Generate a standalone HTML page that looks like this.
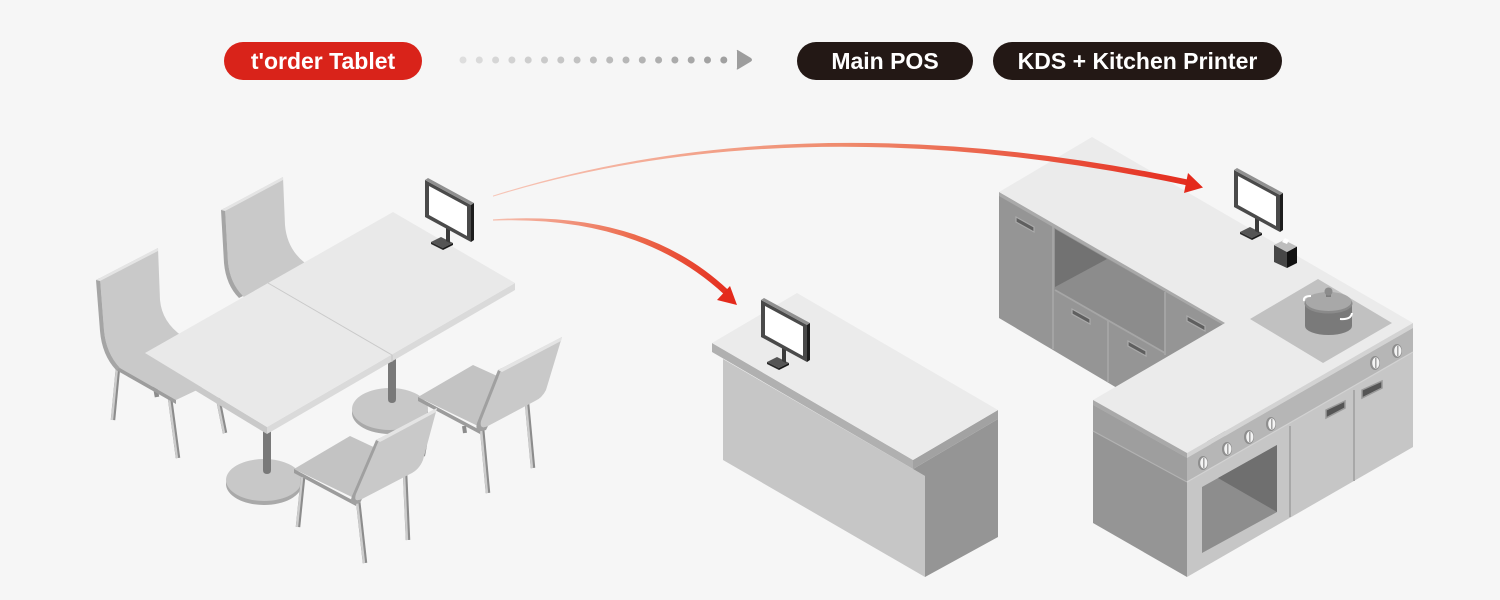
<!DOCTYPE html>
<html><head><meta charset="utf-8">
<style>
html,body{margin:0;padding:0;background:#f6f6f6;}
#c{position:relative;width:1500px;height:600px;overflow:hidden;background:#f6f6f6;font-family:"Liberation Sans",sans-serif;}
.pill{position:absolute;top:42px;height:38px;border-radius:19px;color:#fff;font-weight:bold;font-size:23px;line-height:38px;text-align:center;white-space:nowrap;}
svg{position:absolute;left:0;top:0;}
</style></head><body><div id="c">
<svg width="1500" height="600" viewBox="0 0 1500 600" xmlns="http://www.w3.org/2000/svg">
<defs>
<linearGradient id="ga" gradientUnits="userSpaceOnUse" x1="493" y1="190" x2="1200" y2="190">
<stop offset="0" stop-color="#f7c6b8"/><stop offset="0.5" stop-color="#ef8a6c"/><stop offset="1" stop-color="#e42a1c"/></linearGradient>
<linearGradient id="gb" gradientUnits="userSpaceOnUse" x1="493" y1="220" x2="735" y2="300">
<stop offset="0" stop-color="#f6c0b0"/><stop offset="0.55" stop-color="#ec6a4c"/><stop offset="1" stop-color="#e42a1c"/></linearGradient>
</defs>

<!-- dotted arrow -->
<g>
<circle cx="463" cy="60" r="3.5" fill="#dedede"/><circle cx="479.3" cy="60" r="3.5" fill="#dadada"/><circle cx="495.6" cy="60" r="3.5" fill="#d6d6d6"/><circle cx="511.9" cy="60" r="3.5" fill="#d2d2d2"/><circle cx="528.2" cy="60" r="3.5" fill="#cecece"/><circle cx="544.5" cy="60" r="3.5" fill="#cacaca"/><circle cx="560.8" cy="60" r="3.5" fill="#c6c6c6"/><circle cx="577.1" cy="60" r="3.5" fill="#c2c2c2"/><circle cx="593.4" cy="60" r="3.5" fill="#bebebe"/><circle cx="609.7" cy="60" r="3.5" fill="#bbbbbb"/><circle cx="626" cy="60" r="3.5" fill="#b7b7b7"/><circle cx="642.3" cy="60" r="3.5" fill="#b3b3b3"/><circle cx="658.6" cy="60" r="3.5" fill="#afafaf"/><circle cx="674.9" cy="60" r="3.5" fill="#ababab"/><circle cx="691.2" cy="60" r="3.5" fill="#a7a7a7"/><circle cx="707.5" cy="60" r="3.5" fill="#a3a3a3"/><circle cx="723.8" cy="60" r="3.5" fill="#a0a0a0"/>
<path d="M737,51 Q736,49 738.5,50.5 L751,58 Q753,60 751,61.5 L738.5,69 Q736,70.5 737,68 Z" fill="#9d9d9d"/>
</g>

<!-- Chair 2 (back middle) -->
<path d="M225,208 L283,177 L285,225 Q287,249 305,263 L340,290 L265,330 L243,296 Q230,283 228,262 Z" fill="#c9c9c9"/>
<path d="M221,210 L225,208 L228,262 Q230,283 243,296 L239,298 Q226,285 224,263 Z" fill="#a5a5a5"/>
<path d="M221,210 L279,179 L283,177 L283,180 L225,211 Z" fill="#e4e4e4"/>

<!-- Chair 1 (left) legs -->
<line x1="155" y1="386" x2="157" y2="397" stroke="#8c8c8c" stroke-width="4.5"/>
<line x1="118" y1="368" x2="113" y2="420" stroke="#8c8c8c" stroke-width="4.5"/>
<line x1="117" y1="368" x2="112" y2="420" stroke="#cdcdcd" stroke-width="2.3"/>
<line x1="170" y1="398" x2="178" y2="458" stroke="#8c8c8c" stroke-width="4.5"/>
<line x1="169" y1="398" x2="177" y2="458" stroke="#cdcdcd" stroke-width="2.3"/>
<line x1="218" y1="398" x2="225" y2="433" stroke="#8c8c8c" stroke-width="4.5"/>
<line x1="217" y1="398" x2="224" y2="433" stroke="#cdcdcd" stroke-width="2.3"/>
<!-- Chair 1 body -->
<path d="M100,278 L158,248 L160,300 Q162,322 182,336 L235,372 L176,400 L120,368 Q106,353 104,330 Z" fill="#c9c9c9"/>
<path d="M96,280 L100,278 L104,330 Q106,353 120,368 L116,370 Q102,355 100,331 Z" fill="#a5a5a5"/>
<path d="M116,370 L120,368 L176,400 L176,404 Z" fill="#9d9d9d"/>
<path d="M96,280 L154,250 L158,248 L158,251 L100,281 Z" fill="#e4e4e4"/>

<!-- Table bases & legs -->
<ellipse cx="264" cy="484" rx="38" ry="21" fill="#a9a9a9"/>
<ellipse cx="264" cy="480" rx="38" ry="21" fill="#c8c8c8"/>
<ellipse cx="390" cy="413" rx="38" ry="21" fill="#a9a9a9"/>
<ellipse cx="390" cy="409" rx="38" ry="21" fill="#c8c8c8"/>
<path d="M263,430 L271,430 L271,470 Q271,474 267,474 Q263,474 263,470 Z" fill="#797979"/>
<path d="M388,358 L396,358 L396,399 Q396,403 392,403 Q388,403 388,399 Z" fill="#797979"/>

<!-- Table top -->
<path d="M145,353 L267,427 L267,434 L145,360 Z" fill="#c9c9c9"/>
<path d="M267,427 L515,283 L515,290 L267,434 Z" fill="#dadada"/>
<path d="M145,353 L393,212 L515,283 L267,427 Z" fill="#e9e9e9"/>
<line x1="268" y1="283" x2="392" y2="355" stroke="#c9c9c9" stroke-width="1"/>
<line x1="392" y1="355" x2="392" y2="362" stroke="#c4c4c4" stroke-width="1"/>

<!-- tablet monitor -->
<g transform="translate(425,180)">
<path d="M6,62 L16,57 L28,63 L18,68 Z" fill="#555"/><path d="M6,62 L18,68 L18,70 L6,64 Z" fill="#2a2a2a"/><path d="M18,68 L28,63 L28,65 L18,70 Z" fill="#1a1a1a"/>
<path d="M21,46 L25,48 L25,63 L21,61 Z" fill="#3a3a3a"/>
<path d="M0,0 L46,25 L46,62 L0,37 Z" fill="#4a4a4a"/><path d="M0,0 L3,-2 L49,23 L46,25 Z" fill="#909090"/><path d="M46,25 L49,23 L49,60 L46,62 Z" fill="#1c1c1c"/>
<path d="M4,6 L42,26.5 L42,56 L4,35 Z" fill="#fff"/>
</g>

<!-- Chair 4 (front right) -->
<line x1="464" y1="426" x2="465" y2="433" stroke="#8c8c8c" stroke-width="4"/>
<line x1="482" y1="428" x2="488" y2="493" stroke="#8c8c8c" stroke-width="4.5"/>
<line x1="481" y1="428" x2="487" y2="493" stroke="#cdcdcd" stroke-width="2.3"/>
<line x1="527" y1="403" x2="533" y2="468" stroke="#8c8c8c" stroke-width="4.5"/>
<line x1="526" y1="403" x2="532" y2="468" stroke="#cdcdcd" stroke-width="2.3"/>
<path d="M418,397 L473,365 L506,380 L482,428 Z" fill="#c3c3c3"/>
<path d="M418,397 L480,430 L480,434 L418,401 Z" fill="#9c9c9c"/>
<path d="M502,368 L562,337 L546,390 Q542,398 535,401 L488,426 Q479,430 481,421 Z" fill="#c9c9c9"/>
<path d="M498,370 L502,368 L481,421 Q479,430 488,426 L486,430 Q474,434 477,423 Z" fill="#a0a0a0"/>
<path d="M498,370 L558,339 L562,337 L561,341 L502,372 Z" fill="#e4e4e4"/>

<!-- Chair 3 (front middle) -->
<line x1="425" y1="445" x2="423" y2="456" stroke="#8c8c8c" stroke-width="4"/>
<line x1="303" y1="478" x2="298" y2="527" stroke="#8c8c8c" stroke-width="4.5"/>
<line x1="302" y1="478" x2="297" y2="527" stroke="#cdcdcd" stroke-width="2.3"/>
<line x1="358" y1="500" x2="365" y2="563" stroke="#8c8c8c" stroke-width="4.5"/>
<line x1="357" y1="500" x2="364" y2="563" stroke="#cdcdcd" stroke-width="2.3"/>
<line x1="405" y1="472" x2="408" y2="540" stroke="#8c8c8c" stroke-width="4.5"/>
<line x1="404" y1="472" x2="407" y2="540" stroke="#cdcdcd" stroke-width="2.3"/>
<path d="M294,469 L350,436 L384,452 L358,500 Z" fill="#c3c3c3"/>
<path d="M294,469 L356,502 L356,506 L294,473 Z" fill="#9c9c9c"/>
<path d="M380,438 L437,408 L423,460 Q419,470 410,474 L362,499 Q353,503 356,494 Z" fill="#c9c9c9"/>
<path d="M376,440 L380,438 L356,494 Q353,503 362,499 L360,503 Q348,507 352,496 Z" fill="#a0a0a0"/>
<path d="M376,440 L433,410 L437,408 L436,412 L380,442 Z" fill="#e4e4e4"/>

<!-- POS counter -->
<path d="M723,359 L925,476 L925,577 L723,460 Z" fill="#c6c6c6"/>
<path d="M913,469 L998,419 L998,537 L925,577 L925,476 Z" fill="#959595"/>
<path d="M712,343 L913,460 L913,469 L712,352 Z" fill="#b0b0b0"/>
<path d="M913,460 L998,410 L998,419 L913,469 Z" fill="#a2a2a2"/>
<path d="M797,293 L998,410 L913,460 L712,343 Z" fill="#ebebeb"/>
<g transform="translate(761,300)">
<path d="M6,62 L16,57 L28,63 L18,68 Z" fill="#555"/><path d="M6,62 L18,68 L18,70 L6,64 Z" fill="#2a2a2a"/><path d="M18,68 L28,63 L28,65 L18,70 Z" fill="#1a1a1a"/>
<path d="M21,46 L25,48 L25,63 L21,61 Z" fill="#3a3a3a"/>
<path d="M0,0 L46,25 L46,62 L0,37 Z" fill="#4a4a4a"/><path d="M0,0 L3,-2 L49,23 L46,25 Z" fill="#909090"/><path d="M46,25 L49,23 L49,60 L46,62 Z" fill="#1c1c1c"/>
<path d="M4,6 L42,26.5 L42,56 L4,35 Z" fill="#fff"/>
</g>

<!-- Kitchen back counter face -->
<path d="M999,192 L1225,322 L1225,452 L999,318 Z" fill="#959595"/>
<path d="M1055,229 L1165,292 L1165,353 L1055,290 Z" fill="#8c8c8c"/>
<path d="M1055,229 L1107,259 L1055,287 Z" fill="#727272"/>
<g stroke="#a6a6a6" stroke-width="1.8" fill="none">
<line x1="1053" y1="226" x2="1053" y2="349"/>
<line x1="1165" y1="292" x2="1165" y2="355"/>
<line x1="1055" y1="290" x2="1165" y2="353"/>
<line x1="1108" y1="321" x2="1108" y2="382"/>
</g>
<g fill="#5f5f5f" stroke="#aaaaaa" stroke-width="1.2">
<path d="M1016,217 L1034,227 L1034,232 L1016,222 Z"/>
<path d="M1072,309 L1090,319 L1090,324 L1072,314 Z"/>
<path d="M1128,341 L1146,351 L1146,356 L1128,346 Z"/>
<path d="M1187,316 L1205,326 L1205,331 L1187,321 Z"/>
</g>
<path d="M999,192 L1225,322 L1225,326 L999,196 Z" fill="#a9a9a9"/>

<!-- Kitchen top -->
<path d="M1092,137 L1413,323 L1187,453 L1093,400 L1225,323 L999,192 Z" fill="#ebebeb"/>
<path d="M1250,319 L1318,279 L1392,323 L1323,363 Z" fill="#c1c1c1"/>

<!-- front counter faces -->
<path d="M1093,400 L1187,453 L1187,458 L1093,405 Z" fill="#a9a9a9"/>
<path d="M1187,453 L1413,323 L1413,328 L1187,458 Z" fill="#d3d3d3"/>
<path d="M1093,405 L1187,458 L1187,577 L1093,523 Z" fill="#959595"/>
<path d="M1093,405 L1187,458 L1187,482 L1093,431 Z" fill="#9e9e9e"/>
<line x1="1093" y1="431" x2="1187" y2="482" stroke="#b2b2b2" stroke-width="1.2"/>
<path d="M1187,458 L1413,328 L1413,447 L1187,577 Z" fill="#c6c6c6"/>
<path d="M1187,458 L1413,328 L1413,352 L1187,482 Z" fill="#b6b6b6"/>
<line x1="1187" y1="482" x2="1413" y2="352" stroke="#d2d2d2" stroke-width="1.2"/>
<!-- oven -->
<path d="M1202,487 L1277,445 L1277,512 L1202,553 Z" fill="#8d8d8d"/>
<path d="M1218,478 L1277,445 L1277,512 Z" fill="#6f6f6f"/>
<!-- door lines -->
<line x1="1290" y1="426" x2="1290" y2="517" stroke="#a8a8a8" stroke-width="2"/>
<line x1="1354" y1="390" x2="1354" y2="481" stroke="#a8a8a8" stroke-width="2"/>
<g fill="#555" stroke="#9a9a9a" stroke-width="1.5">
<path d="M1326,410 L1345,401 L1345,408 L1326,418 Z"/>
<path d="M1362,390 L1382,381 L1382,388 L1362,398 Z"/>
</g>
<!-- knobs -->
<g>
<g transform="translate(1203,463)"><ellipse rx="5" ry="7" fill="#8e8e8e"/><ellipse cx="0.8" rx="3.6" ry="5.6" fill="#f4f4f4"/><line x1="0.8" y1="-5" x2="0.8" y2="5" stroke="#9a9a9a" stroke-width="1.4"/></g>
<g transform="translate(1227,449)"><ellipse rx="5" ry="7" fill="#8e8e8e"/><ellipse cx="0.8" rx="3.6" ry="5.6" fill="#f4f4f4"/><line x1="0.8" y1="-5" x2="0.8" y2="5" stroke="#9a9a9a" stroke-width="1.4"/></g>
<g transform="translate(1249,437)"><ellipse rx="5" ry="7" fill="#8e8e8e"/><ellipse cx="0.8" rx="3.6" ry="5.6" fill="#f4f4f4"/><line x1="0.8" y1="-5" x2="0.8" y2="5" stroke="#9a9a9a" stroke-width="1.4"/></g>
<g transform="translate(1271,424)"><ellipse rx="5" ry="7" fill="#8e8e8e"/><ellipse cx="0.8" rx="3.6" ry="5.6" fill="#f4f4f4"/><line x1="0.8" y1="-5" x2="0.8" y2="5" stroke="#9a9a9a" stroke-width="1.4"/></g>
<g transform="translate(1375,363)"><ellipse rx="5" ry="7" fill="#8e8e8e"/><ellipse cx="0.8" rx="3.6" ry="5.6" fill="#f4f4f4"/><line x1="0.8" y1="-5" x2="0.8" y2="5" stroke="#9a9a9a" stroke-width="1.4"/></g>
<g transform="translate(1397,351)"><ellipse rx="5" ry="7" fill="#8e8e8e"/><ellipse cx="0.8" rx="3.6" ry="5.6" fill="#f4f4f4"/><line x1="0.8" y1="-5" x2="0.8" y2="5" stroke="#9a9a9a" stroke-width="1.4"/></g>
</g>

<!-- pot -->
<path d="M1305,303 L1305,326 A23.5,9 0 0 0 1352,326 L1352,303 Z" fill="#7a7a7a"/>
<ellipse cx="1328.5" cy="303.5" rx="24" ry="10" fill="#8a8a8a"/>
<ellipse cx="1328.5" cy="301.5" rx="23" ry="9.5" fill="#a8a8a8"/>
<path d="M1326,292 L1331,292 L1331,297 L1326,297 Z" fill="#7d7d7d"/>
<circle cx="1328.5" cy="291.5" r="4" fill="#8c8c8c"/>
<path d="M1311,296 Q1303,296 1304,301" stroke="#fff" stroke-width="2" fill="none"/>
<path d="M1340,319 Q1351,320 1352,313" stroke="#fff" stroke-width="2" fill="none"/>

<!-- printer -->
<path d="M1274,245 L1287,252 L1287,268 L1274,262 Z" fill="#474747"/>
<path d="M1287,252 L1297,246.5 L1297,263 L1287,268 Z" fill="#111"/>
<path d="M1274,245 L1284,240 L1297,246.5 L1287,252 Z" fill="#bdbdbd"/>
<path d="M1282,242 L1285,238 L1289,240 L1287,244 Z" fill="#fff"/>

<!-- KDS monitor -->
<g transform="translate(1234,170)">
<path d="M6,62 L16,57 L28,63 L18,68 Z" fill="#555"/><path d="M6,62 L18,68 L18,70 L6,64 Z" fill="#2a2a2a"/><path d="M18,68 L28,63 L28,65 L18,70 Z" fill="#1a1a1a"/>
<path d="M21,46 L25,48 L25,63 L21,61 Z" fill="#3a3a3a"/>
<path d="M0,0 L46,25 L46,62 L0,37 Z" fill="#4a4a4a"/><path d="M0,0 L3,-2 L49,23 L46,25 Z" fill="#909090"/><path d="M46,25 L49,23 L49,60 L46,62 Z" fill="#1c1c1c"/>
<path d="M4,6 L42,26.5 L42,56 L4,35 Z" fill="#fff"/>
</g>

<!-- arrows -->
<path d="M493,195.6 Q800,98.5 1190.6,180.1 L1189.4,185.9 Q800,102.5 493,196.6 Z" fill="url(#ga)"/>
<path d="M1203,187.5 L1188,173 L1184,193 Z" fill="#e42a1c"/>
<path d="M493,219.4 Q642,209 728,289.8 L724,294.2 Q638,215 493,220.6 Z" fill="url(#gb)"/>
<path d="M737,305 L717,300 L730,286 Z" fill="#e42a1c"/>
</svg>

<div class="pill" style="left:224px;width:198px;background:#d9231a;">t'order Tablet</div>
<div class="pill" style="left:797px;width:176px;background:#231815;">Main POS</div>
<div class="pill" style="left:993px;width:289px;background:#231815;">KDS + Kitchen Printer</div>
</div></body></html>
